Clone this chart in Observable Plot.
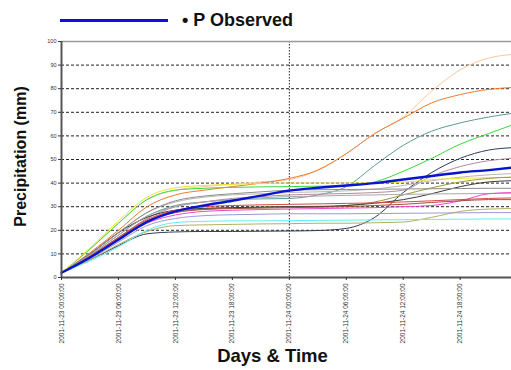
<!DOCTYPE html>
<html>
<head>
<meta charset="utf-8">
<script src="https://cdn.jsdelivr.net/npm/d3@7"></script>
<script src="https://cdn.jsdelivr.net/npm/@observablehq/plot@0.6"></script>
<style>
  html, body { margin: 0; padding: 0; background: #fff; }
  #wrap { width: 511px; height: 370px; position: relative; overflow: hidden; font-family: "Liberation Sans", Arial, sans-serif; }
  #legend { position: relative; height: 36px; }
  #legend .sw { position: absolute; left: 60px; top: 19px; width: 108px; height: 3px; background: #0a14d0; }
  #legend .lab { position: absolute; left: 182px; top: 10px; line-height: 20px; font-size: 18px; font-weight: bold; color: #111; white-space: nowrap; }
</style>
</head>
<body>
<div id="wrap">
  <div id="legend"><div class="sw"></div><div class="lab">• P Observed</div></div>
  <div id="chart"></div>
</div>
<script>
// Hours since 2001-11-23 00:00
const hours = [0, 3, 6, 9, 12, 15, 18, 21, 24, 27, 30, 33, 36, 39, 42, 45, 47.4];

const tickHours = [0, 6, 12, 18, 24, 30, 36, 42];
const tickLabels = [
  "2001-11-23 00:00:00", "2001-11-23 06:00:00", "2001-11-23 12:00:00", "2001-11-23 18:00:00",
  "2001-11-24 00:00:00", "2001-11-24 06:00:00", "2001-11-24 12:00:00", "2001-11-24 18:00:00"
];
const yTicks = [0, 10, 20, 30, 40, 50, 60, 70, 80, 90, 100];
const gridValues = [10, 20, 30, 40, 50, 60, 70, 80, 90];
const dayBreak = [24];

// Simulated series (mm), values at `hours`
const seriesNames  = ["peach", "orange", "teal", "green", "navy", "mauve", "lightgrey", "yellow", "olive",
                      "charcoal", "grey", "grey2", "pink", "brown", "lavender", "khaki", "cyan", "red"];
const seriesColors = ["#fbc79b", "#f07a2a", "#5f9b97", "#3cd83c", "#2e3e5c", "#b58a9a", "#b8b8b8", "#eee236", "#9a9a30",
                      "#3a3a3a", "#8c8c8c", "#a8a8a8", "#ee48c8", "#a0503a", "#9a9ad8", "#b3b060", "#5ff0f0", "#d84848"];
const peach     = [2, 12, 23, 33, 37, 38.5, 39.5, 40.5, 41.5, 45.5, 52.5, 61, 68, 79, 88, 93, 94.5];
const orange    = [2, 10.5, 20, 30, 35, 37, 38.5, 40, 42, 45.5, 52.5, 61, 67.5, 74, 77.5, 79.7, 80.5];
const teal      = [2, 9.5, 18, 26, 30.5, 32, 33, 33.3, 33.5, 35, 38.5, 47.5, 56, 62, 65.5, 68, 69.5];
const green     = [2, 12, 23, 33, 37, 37.8, 38.2, 38.4, 38.5, 38.7, 39, 40.5, 45, 50.5, 56.5, 61, 64.5];
const navy      = [2, 7.5, 13.5, 18.5, 19.3, 19.5, 19.5, 19.6, 19.7, 19.9, 20.8, 25.5, 36, 44.5, 50.5, 54, 55];
const mauve     = [2, 9, 17, 25, 30, 32, 33.5, 34.3, 35, 35.3, 35.6, 36, 37, 43, 47, 49.5, 50.5];
const lightgrey = [2, 10, 19, 27.5, 32, 34, 35, 35.5, 36, 36.3, 36.7, 37.5, 39, 41, 42.5, 43.5, 44];
const yellow    = [2, 12.5, 24, 34, 38, 39, 39.5, 39.8, 40, 40, 40, 40.1, 40.4, 41.5, 42, 42.3, 42.5];
const olive     = [2, 9, 17, 24, 28, 29, 29.5, 29.8, 30, 30.2, 30.5, 32, 35, 38, 40.5, 42, 42.5];
const charcoal  = [2, 10, 19, 25.5, 28.5, 29.3, 29.6, 29.8, 30, 30, 30.5, 31.5, 33, 35.5, 38.5, 40.5, 41];
const grey      = [2, 10, 19, 27.5, 32.5, 34.5, 35.5, 36.3, 37, 37.2, 37.3, 37.4, 37.5, 37.6, 37.7, 37.8, 37.8];
const grey2     = [2, 9.5, 18, 26, 30, 32, 33, 33.8, 34.3, 34.5, 34.8, 35, 35.2, 35.4, 35.5, 35.6, 35.7];
const pink      = [2, 8.5, 16, 23, 26.5, 28, 28.5, 28.8, 29, 29.2, 29.4, 29.6, 30, 30.5, 32.5, 35.5, 36];
const brown     = [2, 8.5, 16.5, 24, 27.5, 28.8, 29.2, 29.4, 29.6, 29.8, 30, 30.5, 31, 31.8, 32.5, 33, 33];
const lavender  = [2, 8, 15, 22, 25, 26.2, 26.6, 26.8, 27, 27, 27, 27.1, 27.2, 27.3, 27.4, 27.5, 27.5];
const khaki     = [2, 7.5, 14, 19.5, 22, 22.3, 22.5, 22.7, 22.8, 23, 23, 23.2, 23.5, 25.5, 28, 29, 29.2];
const cyan      = [2, 7, 13, 20, 23.3, 23.8, 24, 24, 24.1, 24.2, 24.3, 24.4, 24.5, 24.6, 24.7, 24.8, 24.8];
const red       = [2, 9, 17, 24.5, 28.5, 30, 30.5, 30.8, 31, 31.2, 31.4, 31.6, 32, 32.5, 33, 33.5, 33.7];

// Observed precipitation (mm)
const observed  = [2, 8.5, 16, 23.5, 28, 30.5, 32.5, 34.7, 36.8, 38, 39, 40, 41.5, 43, 44.5, 45.5, 46.5];

const seriesValues = [peach, orange, teal, green, navy, mauve, lightgrey, yellow, olive,
                      charcoal, grey, grey2, pink, brown, lavender, khaki, cyan, red];

const simRows = [];
seriesNames.forEach((name, s) => {
  hours.forEach((h, i) => simRows.push({series: name, hour: h, value: seriesValues[s][i]}));
});
const obsRows = hours.map((h, i) => ({hour: h, value: observed[i]}));

const chart = Plot.plot({
  width: 511,
  height: 334,
  marginTop: 5,
  marginLeft: 61,
  marginRight: 0,
  marginBottom: 93,
  style: {fontFamily: "Liberation Sans, Arial, sans-serif", background: "#fff", color: "#333"},
  x: {domain: [0, 47.4]},
  y: {domain: [0, 100]},
  color: {domain: seriesNames, range: seriesColors},
  marks: [
    Plot.ruleY(gridValues, {stroke: "#222", strokeWidth: 1, strokeDasharray: "3,2"}),
    Plot.ruleX(dayBreak, {stroke: "#222", strokeWidth: 1, strokeDasharray: "1.5,1.5"}),
    Plot.ruleY([100], {stroke: "#9a9a9a", strokeWidth: 1.5}),
    Plot.line(simRows, {x: "hour", y: "value", z: "series", stroke: "series", strokeWidth: 1, curve: "monotone-x"}),
    Plot.line(obsRows, {x: "hour", y: "value", stroke: "#0a14d0", strokeWidth: 2.4, curve: "monotone-x"}),
    Plot.ruleX([0], {stroke: "#555", strokeWidth: 2}),
    Plot.ruleY([0], {stroke: "#555", strokeWidth: 2}),
    Plot.axisY({ticks: yTicks, tickSize: 3, tickPadding: 2, fontSize: 5.5, label: null}),
    Plot.axisX({ticks: tickHours, tickFormat: d => tickLabels[tickHours.indexOf(d)], tickRotate: -90,
                tickSize: 3, tickPadding: 3, fontSize: 6.5, label: null}),
    Plot.text(["Precipitation (mm)"], {frameAnchor: "left", rotate: -90, dx: -41, dy: -3,
                fontSize: 16, fontWeight: "bold", fill: "#111", textAnchor: "middle"}),
    Plot.text(["Days & Time"], {frameAnchor: "bottom", dx: -14, dy: 84,
                fontSize: 18.5, fontWeight: "bold", fill: "#111", textAnchor: "middle"})
  ]
});
document.getElementById("chart").appendChild(chart);
</script>
</body>
</html>
